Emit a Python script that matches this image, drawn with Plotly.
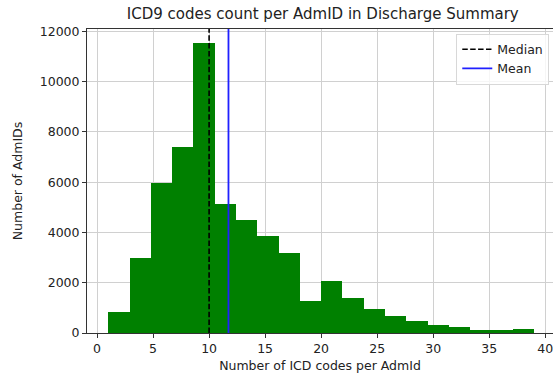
import plotly.graph_objects as go

# ---- data ----
bin_edges = [1.0, 2.9, 4.8, 6.7, 8.6, 10.5, 12.4, 14.3, 16.2, 18.1, 20.0,
             21.9, 23.8, 25.7, 27.6, 29.5, 31.4, 33.3, 35.2, 37.1, 39.0]
counts = [820, 3000, 5960, 7400, 11520, 5120, 4500, 3840, 3170, 1280,
          2065, 1390, 955, 660, 490, 318, 223, 120, 120, 160]
median_value = 10.0
mean_value = 11.73
x_ticks = [0, 5, 10, 15, 20, 25, 30, 35, 40]
y_ticks = [0, 2000, 4000, 6000, 8000, 10000, 12000]

centers = [(a + b) / 2 for a, b in zip(bin_edges[:-1], bin_edges[1:])]
widths = [b - a for a, b in zip(bin_edges[:-1], bin_edges[1:])]

FONT = "DejaVu Sans"

fig = go.Figure()
fig.add_trace(go.Bar(x=centers, y=counts, width=widths,
                     marker=dict(color="green", line=dict(width=0)),
                     showlegend=False))

fig.add_shape(type="line", x0=median_value, x1=median_value, y0=0, y1=1,
              xref="x", yref="y domain",
              line=dict(color="black", width=1.6, dash="5.5px,2.4px"),
              showlegend=True, name="Median")
fig.add_shape(type="line", x0=mean_value, x1=mean_value, y0=0, y1=1,
              xref="x", yref="y domain",
              line=dict(color="#2020ff", width=1.8),
              showlegend=True, name="Mean")

ymax = max(counts) * 1.05

fig.update_layout(
    width=553, height=383,
    margin=dict(l=87, r=0, t=29, b=50),
    paper_bgcolor="white", plot_bgcolor="white",
    font=dict(family=FONT, size=12.5, color="#222"),
    bargap=0,
    title=dict(text="ICD9 codes count per AdmID in Discharge Summary",
               x=(87 + 553) / 2 / 553 + 0.005, xanchor="center",
               y=1 - 14 / 383, yanchor="middle",
               font=dict(size=15, color="#222")),
    legend=dict(x=0.992, xanchor="right", y=0.985, yanchor="top",
                bgcolor="rgba(255,255,255,0.8)", bordercolor="#d8d8d8",
                borderwidth=1, font=dict(size=12.5),
                itemwidth=30, tracegroupgap=0),
    xaxis=dict(range=[-0.9, 40.7], tickvals=x_ticks,
               showgrid=True, gridcolor="#d0d0d0", gridwidth=1,
               zeroline=False, showline=True, linecolor="#333", linewidth=1,
               mirror=True, ticks="outside", ticklen=4, tickcolor="#333",
               ticklabeloverflow="allow",
               layer="above traces",
               title=dict(text="Number of ICD codes per AdmId", standoff=6,
                          font=dict(size=12.5))),
    yaxis=dict(range=[0, ymax], tickvals=y_ticks,
               ticktext=[str(v) for v in y_ticks],
               showgrid=True, gridcolor="#d0d0d0", gridwidth=1,
               zeroline=False, showline=True, linecolor="#333", linewidth=1,
               ticks="outside", ticklen=4, tickcolor="#333",
               layer="above traces",
               title=dict(text="Number of AdmIDs", standoff=14,
                          font=dict(size=12.5))),
)

fig.write_html("out.html")
